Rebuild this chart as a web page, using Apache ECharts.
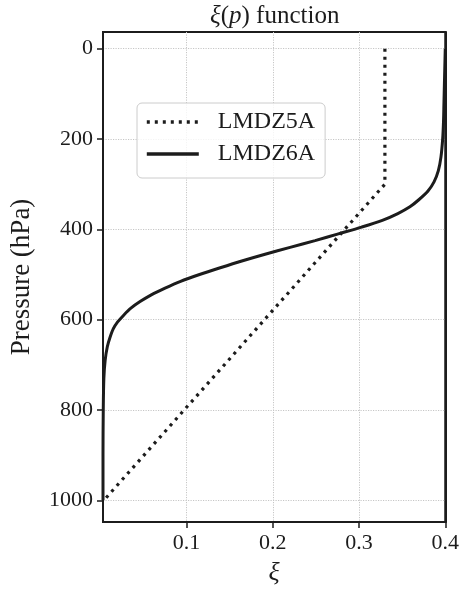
<!DOCTYPE html>
<html>
<head>
<meta charset="utf-8">
<script src="https://cdn.jsdelivr.net/npm/echarts@6/dist/echarts.min.js"></script>
<style>html,body{margin:0;padding:0;background:#fff;}#c{width:462px;height:592px;}</style>
</head>
<body>
<div id="c"></div>
<script>
// ---- data ----
var seriesNames = ['LMDZ5A', 'LMDZ6A'];
var pLMDZ5A  = [0, 300, 1000];
var xiLMDZ5A = [0.33, 0.33, 0.004];
var pLMDZ6A  = [0, 40, 80, 120, 160, 200, 240, 270, 295, 315, 335, 350, 365, 380, 395, 410, 425, 440, 455, 470, 485, 500, 515, 530, 545, 560, 575, 590, 605, 620, 640, 660, 690, 730, 800, 900, 1000];
var xiLMDZ6A = [0.400, 0.3995, 0.399, 0.3985, 0.398, 0.397, 0.395, 0.392, 0.387, 0.380, 0.369, 0.359, 0.345, 0.327, 0.303, 0.276, 0.249, 0.220, 0.191, 0.164, 0.139, 0.115, 0.093, 0.075, 0.059, 0.046, 0.035, 0.027, 0.020, 0.015, 0.011, 0.008, 0.0055, 0.004, 0.0033, 0.003, 0.003];
var xTicks = [0.1, 0.2, 0.3, 0.4];
var yTicks = [0, 200, 400, 600, 800, 1000];

function pairs(xs, ps) { return xs.map(function (x, i) { return [x, ps[i]]; }); }

var FONT = 'Liberation Serif';
var INK = '#1c1c1c';
var GRID = { show: true, lineStyle: { color: '#c6c6c6', width: 1, type: [1.2, 1.3] } };
var chart = echarts.init(document.getElementById('c'), null, {renderer: 'canvas'});
chart.setOption({
  animation: false,
  backgroundColor: '#ffffff',
  title: {
    text: '{i|ξ}({i|p}) function',
    left: 205, top: -1,
    textStyle: {
      fontFamily: FONT, fontSize: 25, fontWeight: 'normal', color: INK,
      rich: { i: { fontFamily: FONT, fontSize: 25, fontStyle: 'italic', color: INK } }
    }
  },
  grid: {
    left: 103, right: 15, top: 32, bottom: 70,
    show: true, borderColor: INK, borderWidth: 2, backgroundColor: 'transparent'
  },
  legend: {
    orient: 'vertical', left: 137, top: 103,
    padding: [7, 10, 12, 8],
    itemWidth: 52, itemHeight: 24, itemGap: 8,
    borderColor: '#cccccc', borderWidth: 1, borderRadius: 5,
    backgroundColor: 'rgba(255,255,255,0.8)',
    itemStyle: { opacity: 0 },
    lineStyle: { width: 3.6 },
    textStyle: { fontFamily: FONT, fontSize: 24, color: INK, padding: [0, 0, 0, 14] },
    data: seriesNames
  },
  xAxis: {
    type: 'value', min: 0.003, max: 0.4,
    name: 'ξ', nameLocation: 'middle', nameGap: 38,
    nameTextStyle: { fontFamily: FONT, fontSize: 26, fontStyle: 'italic', color: INK },
    axisLine: { show: true, onZero: false, lineStyle: { color: INK, width: 2 } },
    axisTick: { show: true, length: 6, lineStyle: { color: INK, width: 1.5 }, customValues: xTicks },
    axisLabel: { fontFamily: FONT, fontSize: 22, color: INK, margin: 10, customValues: xTicks,
      formatter: function (v) { return v.toFixed(1); } },
    splitLine: GRID
  },
  yAxis: [{
    type: 'value', inverse: true, min: -37, max: 1048,
    name: 'Pressure (hPa)', nameLocation: 'middle', nameGap: 68, nameRotate: 90,
    nameTextStyle: { fontFamily: FONT, fontSize: 27, color: INK },
    axisLine: { show: true, onZero: false, lineStyle: { color: INK, width: 2 } },
    axisTick: { show: true, length: 6, lineStyle: { color: INK, width: 1.5 }, customValues: yTicks },
    axisLabel: { fontFamily: FONT, fontSize: 22, color: INK, margin: 10, customValues: yTicks,
      formatter: function (v) { return String(v); } },
    splitLine: GRID
  }, {
    type: 'value', inverse: true, min: -37, max: 1048, position: 'right',
    axisLine: { show: true, onZero: false, lineStyle: { color: INK, width: 2 } },
    axisTick: { show: false }, axisLabel: { show: false }, splitLine: { show: false }
  }],
  series: [
    {
      name: seriesNames[0], type: 'line', symbol: 'none', clip: true,
      data: pairs(xiLMDZ5A, pLMDZ5A),
      lineStyle: { color: INK, width: 3.2, type: [3, 5], cap: 'butt' },
      itemStyle: { color: INK }
    },
    {
      name: seriesNames[1], type: 'line', symbol: 'none', clip: true, smooth: 0.3,
      data: pairs(xiLMDZ6A, pLMDZ6A),
      lineStyle: { color: INK, width: 3 },
      itemStyle: { color: INK }
    }
  ]
});
</script>
</body>
</html>
